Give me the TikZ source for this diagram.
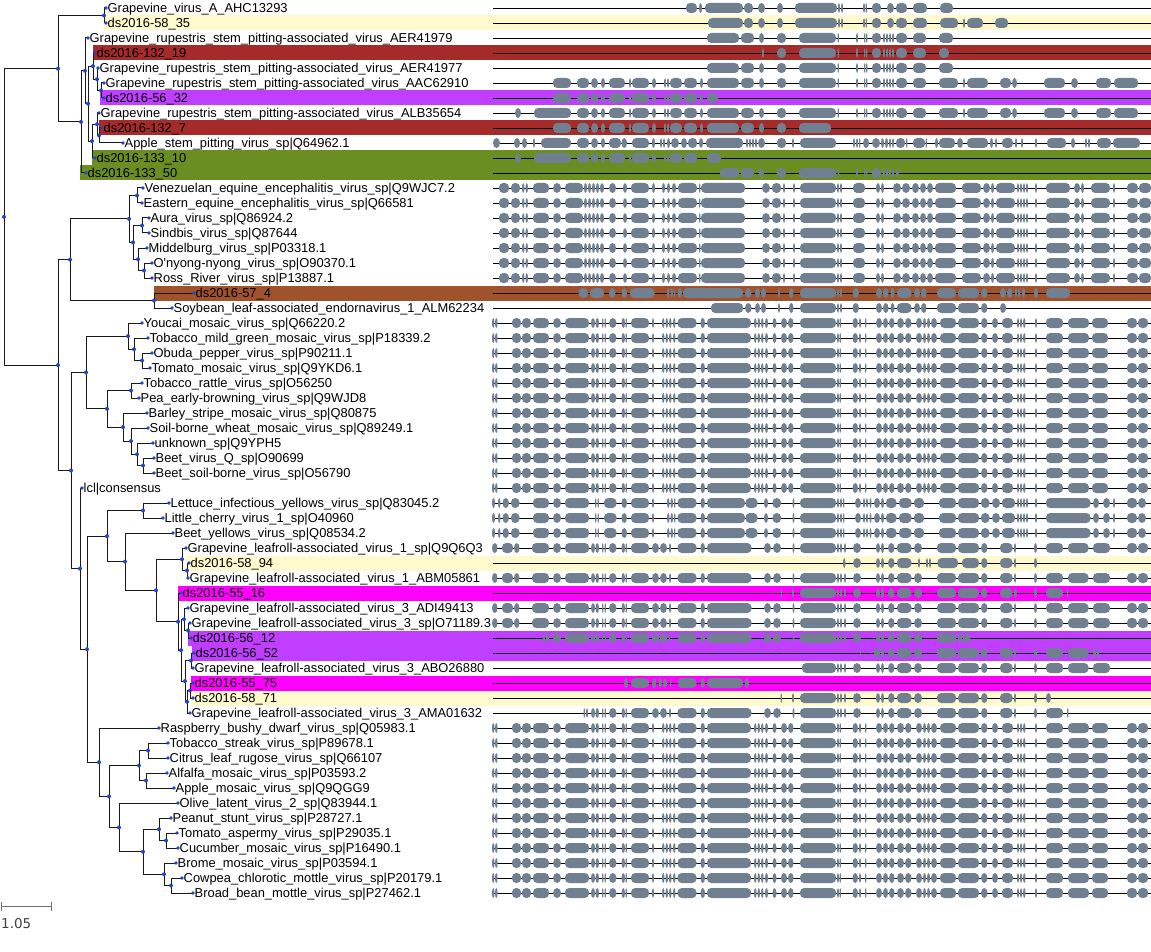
\documentclass[tikz,border=0pt]{standalone}
\usepackage{fontspec}
\newfontfamily\lf{Liberation Sans}
\newfontfamily\sbf{DejaVu Sans}
\definecolor{dotblue}{HTML}{2244CC}
\definecolor{blk}{HTML}{708090}
\definecolor{cyel}{HTML}{FFFACD}
\definecolor{cbrn}{HTML}{A52A2A}
\definecolor{cpur}{HTML}{BF3EFF}
\definecolor{coli}{HTML}{6B8E23}
\definecolor{csie}{HTML}{A0522D}
\definecolor{cmag}{HTML}{FF00FF}
\definecolor{sbar}{HTML}{707070}
\tikzset{
  br/.style={draw=black!90,line width=1pt},
  nd/.style={fill=dotblue},
  lbl/.style={anchor=base west,inner sep=0pt,xshift=1.5pt,yshift=-4.6pt,font=\lf\fontsize{12.9}{15}\selectfont},
  blkc/.style={fill=blk},
  alnline/.style={draw=black,line width=0.9pt},
  sb/.style={draw=sbar,line width=1pt},
}
% one alignment block: thin ellipse when narrow, rounded bar otherwise
\newcommand\blk[3]{%
  \pgfmathsetmacro\bw{#3-#2}%
  \pgfmathsetmacro\bc{(#2+#3)/2}%
  \ifdim\bw pt<8.5pt\relax
    \fill[blkc] (\bc,#1) ellipse ({\bw/2} and 5);%
  \else
    \fill[blkc,rounded corners=4.2pt] (#2,#1-5) rectangle (#3,#1+5);%
  \fi}
% one alignment row: base line plus its blocks
\newcommand\aln[2]{%
  \draw[alnline] (493,#1) -- (1151,#1);
  \foreach \a/\b in #2 {\blk{#1}{\a}{\b}}}
% highlight band behind a leaf row
\newcommand\band[3]{\fill[#1] (#2,#3-7.5) rectangle (1151,#3+7.5);}
% block patterns shared by related sequences
\def\Palpha{499/509,511/520,522/524.5,525.5/528,533/549,553/561,565/583,584/587,588/591,592/595,596/599,600/604,609/616,623/627,631/649,652/655,662/665,667/670,672/676,678/697,699/700.5,701/745,762/770,772/781,783/785,793/795,800/836,837/839,840/842,853/865,876/880,881/884,893/901,902/910,912/919,920/926,927/933,935/956,962/981,983/990,991/994,996/1015,1017/1019,1020/1022,1023/1025,1026/1028,1035/1037,1046/1070,1074/1080,1081/1084,1091/1110,1113/1115,1127/1138,1139/1151}
\def\Ptmv{492/494.5,495/497.6,512/521,522/531,533/549,553/561,565/589,591/595,595.5/599,602/603.5,604.5/606,609/616.5,621.5/625,625.5/627,631/649,652/654,662/664.5,665.5/668,669/671.5,673/675.5,677.5/696.5,700.5/705,707/751,754/756.5,757.5/760,761/763.5,765/768,772.5/776.5,781/787,788/793.5,800/836,837/839,839.5/841,852.5/858,859/861,865/866.5,876/882,883/888,889/894.5,897/904,905/911.5,916/922,923/926,927/930,931/937,940/956,958/979,981/987.5,992/998,1002/1013,1017/1019,1020/1022,1023/1025.5,1035/1037,1046/1063,1068/1089,1092/1108,1127/1137,1138/1148}
\def\Pclos{492/495,498/500.5,502.5/509,511/519.5,533/549,553/561,565/589,595/596.5,597.5/599,604/616.5,621.5/627,631/649,652/654,667/669.5,670.5/673,674/675.5,677.5/696.5,700.5/705,707/745,745.5/757.5,764/768,772.5/781,792.5/794.5,800/836,837/839,840/842,843/844.5,855/861,863/865,866/868,869.5/871.5,874/880,881/884,886/896.5,899/911.5,914/924,939/956,958/979,981/989.5,992/1000,1002/1015,1017/1019,1020/1022,1023/1025,1026/1028,1035/1037,1046/1090.5,1093/1099,1103/1110,1113/1115,1127/1137,1138/1146}
\def\Gmid{591/595,595.5/599,602/603.5,604.5/606,609/616.5,621.5/625,625.5/627,631/649,652/659,660/667,669/671,677.5/696.5,700.5/705,707/751.5,764/771,773/781,792.5/794.5,800/836,837/839,840/842,844/846,853/861,876/880,881/884,888/894.5,897/911.5,914/922,937/956,958/979,981/987.5,1000/1012.5,1014/1016,1034/1037,1046/1063}
\edef\Pglr{492/497.5,502/513,514/519.5,532/549,553/561,565/589,\Gmid,1068/1088.5,1093/1110,1127/1137,1138/1148}
\edef\Rglrb{583.5/585,586/588,\Gmid,1067/1068.5}
\def\Fhead{577/589,591/598,601/605,609/625,629/631,632/649,652/656,664/666,667/669,670/682,684/697}
\def\Fmid{707/739,741/754,759/764,777/786,799/836,837.5/839,856/858,864/865.5,866/867.5,872/881,883/885,886/888,889/891,892/894,896/907,913/926}
\def\Ftail{939/958,963/965,967/988,1000/1011,1012/1017,1044/1065,1071/1078,1096/1111,1114/1138}
\edef\Rthree{\Fmid,939/953}
\edef\Rsix{553/571,\Fhead,700/703,\Fmid,\Ftail}
\edef\Rseven{553/571,\Fhead,700/703,707/718}
\edef\Reight{515/521,534/571,\Fhead,700/703,\Fmid,\Ftail}
\edef\Rnine{553/571,\Fhead,700/703,707/739,741/754,759/764,777/786,799/831}
\edef\Releven{515/521,534/571,\Fhead,707/721}
\begin{document}
\begin{tikzpicture}[x=1pt,y=-1pt]
\useasboundingbox (0,0) rectangle (1151,952);
\fill[white] (0,0) rectangle (1151,952);

% highlight bands
\band{cyel}{104}{23}
\band{cbrn}{93}{53}
\band{cpur}{100}{98}
\band{cbrn}{99}{128}
\band{coli}{92}{158}
\band{coli}{80}{173}
\band{csie}{154}{293}
\band{cyel}{186}{563}
\band{cmag}{178}{593}
\band{cpur}{188}{638}
\band{cpur}{192}{653}
\band{cmag}{191}{683}
\band{cyel}{191}{698}

% internal nodes of the tree
\foreach \n/\x/\y in {root/4/216.9,B/58/68.7,A/104/15.5,C/81/121.9,D/85/70.8,E/88/103.6,F/93/66.1,H/97/79.25,I/101/90.5,K/92/141.1,G/97/124.25,J/99/135.5,
  X/58/365.1,L/70/259.7,M/129/218.9,O/137/195.5,P/133/242.4,Q/142/225.5,R/138/259.25,S/144/270.5,N/154/300.5,
  Y/71/470.5,Z/86/372.4,T/128/336.1,T2/134/349.25,T3/142/360.5,V/107/408.8,W/131/390.5,AA/123/427.1,AB/131/441.1,AC/137/454.25,AD/143/465.5,
  AF/80/568.6,AG/87/649.2,AH/107/536.1,AJ/143/510.5,AK/125/561.6,AL/156/590.3,AM/182/559.25,AO/187/570.5,AN/178/621.6,AP/181/650.2,AQ/184/619.25,AS/188/630.5,AR/185/681.1,AT/191/660.5,AU/187/701.75,AV/190/690.5,
  AI/99/762.2,AW/109/796.4,AX/139/765.5,AZ/148/750.5,BA/146/780.5,AY/119/827.4,BB/143/851.75,BC/159/829.25,BE/166/840.5,BD/164/874.25,BF/171/885.5}
  {\coordinate (\n) at (\x,\y);}

% leaves
\foreach \n/\x/\y in {l1/106/8,l2/106/23,l3/88/38,l4/95/53,l5/98/68,l6/104/83,l7/104/98,l8/99/113,l9/102/128,l10/123/143,l11/95/158,l12/86/173,
  l13/143/188,l14/142/203,l15/149/218,l16/149/233,l17/147/248,l18/152/263,l19/152/278,l20/194/293,l21/172/308,
  l22/142/323,l23/148/338,l24/152/353,l25/150/368,l26/142/383,l27/139/398,l28/147/413,l29/148/428,l30/153/443,l31/154/458,l32/154/473,
  l33/82/488,l34/169/503,l35/163/518,l36/173/533,l37/186/548,l38/189/563,l39/188/578,l40/181/593,l41/188/608,l42/190/623,l43/191/638,l44/194/653,l45/193/668,l46/193/683,l47/193/698,l48/190/713,
  l49/159/728,l50/168/743,l51/168/758,l52/167/773,l53/174/788,l54/178/803,l55/171/818,l56/177/833,l57/178/848,l58/176/863,l59/182/878,l60/193/893}
  {\coordinate (\n) at (\x,\y);}

% branches
\foreach \p/\c in {root/B,root/X,B/A,B/C,A/l1,A/l2,C/D,C/l12,D/l3,D/E,E/F,E/K,F/l4,F/H,H/l5,H/I,I/l6,I/l7,K/G,K/l11,G/l8,G/J,J/l9,J/l10,
  X/L,X/Y,L/M,L/N,M/O,M/P,O/l13,O/l14,P/Q,P/R,Q/l15,Q/l16,R/l17,R/S,S/l18,S/l19,N/l20,N/l21,
  Y/Z,Y/AF,Z/T,Z/V,T/l22,T/T2,T2/l23,T2/T3,T3/l24,T3/l25,V/W,V/AA,W/l26,W/l27,AA/l28,AA/AB,AB/l29,AB/AC,AC/l30,AC/AD,AD/l31,AD/l32,
  AF/l33,AF/AG,AG/AH,AG/AI,AH/AJ,AH/AK,AJ/l34,AJ/l35,AK/l36,AK/AL,AL/AM,AL/AN,AM/l37,AM/AO,AO/l38,AO/l39,AN/l40,AN/AP,AP/AQ,AP/AR,AQ/l41,AQ/AS,AS/l42,AS/l43,AR/AT,AR/AU,AT/l44,AT/l45,AU/AV,AU/l48,AV/l46,AV/l47,
  AI/l49,AI/AW,AW/AX,AW/AY,AX/AZ,AX/BA,AZ/l50,AZ/l51,BA/l52,BA/l53,AY/l54,AY/BB,BB/BC,BB/BD,BC/l55,BC/BE,BE/l56,BE/l57,BD/l58,BD/BF,BF/l59,BF/l60}
  {\draw[br] (\p) |- (\c);}

% node dots
\foreach \n in {root,B,A,C,D,E,F,H,I,K,G,J,X,L,M,O,P,Q,R,S,N,Y,Z,T,T2,T3,V,W,AA,AB,AC,AD,AF,AG,AH,AJ,AK,AL,AM,AO,AN,AP,AQ,AS,AR,AT,AU,AV,AI,AW,AX,AZ,BA,AY,BB,BC,BE,BD,BF}
  {\fill[nd] (\n) circle (2);}
\foreach \i in {1,...,60} {\fill[nd] (l\i) circle (1.8);}

% leaf labels
\node[lbl] (t1) at (l1) {Grapevine\_virus\_A\_AHC13293};
\node[lbl] (t2) at (l2) {ds2016-58\_35};
\node[lbl] (t3) at (l3) {Grapevine\_rupestris\_stem\_pitting-associated\_virus\_AER41979};
\node[lbl] (t4) at (l4) {ds2016-132\_19};
\node[lbl] (t5) at (l5) {Grapevine\_rupestris\_stem\_pitting-associated\_virus\_AER41977};
\node[lbl] (t6) at (l6) {Grapevine\_rupestris\_stem\_pitting-associated\_virus\_AAC62910};
\node[lbl] (t7) at (l7) {ds2016-56\_32};
\node[lbl] (t8) at (l8) {Grapevine\_rupestris\_stem\_pitting-associated\_virus\_ALB35654};
\node[lbl] (t9) at (l9) {ds2016-132\_7};
\node[lbl] (t10) at (l10) {Apple\_stem\_pitting\_virus\_sp|Q64962.1};
\node[lbl] (t11) at (l11) {ds2016-133\_10};
\node[lbl] (t12) at (l12) {ds2016-133\_50};
\node[lbl] (t13) at (l13) {Venezuelan\_equine\_encephalitis\_virus\_sp|Q9WJC7.2};
\node[lbl] (t14) at (l14) {Eastern\_equine\_encephalitis\_virus\_sp|Q66581};
\node[lbl] (t15) at (l15) {Aura\_virus\_sp|Q86924.2};
\node[lbl] (t16) at (l16) {Sindbis\_virus\_sp|Q87644};
\node[lbl] (t17) at (l17) {Middelburg\_virus\_sp|P03318.1};
\node[lbl] (t18) at (l18) {O'nyong-nyong\_virus\_sp|O90370.1};
\node[lbl] (t19) at (l19) {Ross\_River\_virus\_sp|P13887.1};
\node[lbl] (t20) at (l20) {ds2016-57\_4};
\node[lbl] (t21) at (l21) {Soybean\_leaf-associated\_endornavirus\_1\_ALM62234};
\node[lbl] (t22) at (l22) {Youcai\_mosaic\_virus\_sp|Q66220.2};
\node[lbl] (t23) at (l23) {Tobacco\_mild\_green\_mosaic\_virus\_sp|P18339.2};
\node[lbl] (t24) at (l24) {Obuda\_pepper\_virus\_sp|P90211.1};
\node[lbl] (t25) at (l25) {Tomato\_mosaic\_virus\_sp|Q9YKD6.1};
\node[lbl] (t26) at (l26) {Tobacco\_rattle\_virus\_sp|O56250};
\node[lbl] (t27) at (l27) {Pea\_early-browning\_virus\_sp|Q9WJD8};
\node[lbl] (t28) at (l28) {Barley\_stripe\_mosaic\_virus\_sp|Q80875};
\node[lbl] (t29) at (l29) {Soil-borne\_wheat\_mosaic\_virus\_sp|Q89249.1};
\node[lbl] (t30) at (l30) {unknown\_sp|Q9YPH5};
\node[lbl] (t31) at (l31) {Beet\_virus\_Q\_sp|O90699};
\node[lbl] (t32) at (l32) {Beet\_soil-borne\_virus\_sp|O56790};
\node[lbl] (t33) at (l33) {lcl|consensus};
\node[lbl] (t34) at (l34) {Lettuce\_infectious\_yellows\_virus\_sp|Q83045.2};
\node[lbl] (t35) at (l35) {Little\_cherry\_virus\_1\_sp|O40960};
\node[lbl] (t36) at (l36) {Beet\_yellows\_virus\_sp|Q08534.2};
\node[lbl] (t37) at (l37) {Grapevine\_leafroll-associated\_virus\_1\_sp|Q9Q6Q3};
\node[lbl] (t38) at (l38) {ds2016-58\_94};
\node[lbl] (t39) at (l39) {Grapevine\_leafroll-associated\_virus\_1\_ABM05861};
\node[lbl] (t40) at (l40) {ds2016-55\_16};
\node[lbl] (t41) at (l41) {Grapevine\_leafroll-associated\_virus\_3\_ADI49413};
\node[lbl] (t42) at (l42) {Grapevine\_leafroll-associated\_virus\_3\_sp|O71189.3};
\node[lbl] (t43) at (l43) {ds2016-56\_12};
\node[lbl] (t44) at (l44) {ds2016-56\_52};
\node[lbl] (t45) at (l45) {Grapevine\_leafroll-associated\_virus\_3\_ABO26880};
\node[lbl] (t46) at (l46) {ds2016-55\_75};
\node[lbl] (t47) at (l47) {ds2016-58\_71};
\node[lbl] (t48) at (l48) {Grapevine\_leafroll-associated\_virus\_3\_AMA01632};
\node[lbl] (t49) at (l49) {Raspberry\_bushy\_dwarf\_virus\_sp|Q05983.1};
\node[lbl] (t50) at (l50) {Tobacco\_streak\_virus\_sp|P89678.1};
\node[lbl] (t51) at (l51) {Citrus\_leaf\_rugose\_virus\_sp|Q66107};
\node[lbl] (t52) at (l52) {Alfalfa\_mosaic\_virus\_sp|P03593.2};
\node[lbl] (t53) at (l53) {Apple\_mosaic\_virus\_sp|Q9QGG9};
\node[lbl] (t54) at (l54) {Olive\_latent\_virus\_2\_sp|Q83944.1};
\node[lbl] (t55) at (l55) {Peanut\_stunt\_virus\_sp|P28727.1};
\node[lbl] (t56) at (l56) {Tomato\_aspermy\_virus\_sp|P29035.1};
\node[lbl] (t57) at (l57) {Cucumber\_mosaic\_virus\_sp|P16490.1};
\node[lbl] (t58) at (l58) {Brome\_mosaic\_virus\_sp|P03594.1};
\node[lbl] (t59) at (l59) {Cowpea\_chlorotic\_mottle\_virus\_sp|P20179.1};
\node[lbl] (t60) at (l60) {Broad\_bean\_mottle\_virus\_sp|P27462.1};

% alignment rows
\aln{8}{{686/697,699/702,705/743,744/753,758/765,777/783,795/837,838/840,841/843,863/865,865.5/867,872/881,887/894,896/907,913/927,940/953}}
\aln{23}{{708/743,744/753,758/765,777/783,795/837,838/840,841/843,863/865,865.5/867,872/881,887/894,896/907,913/927,940/958,963/965,967/983,995/1008}}
\aln{38}{\Rthree}
\aln{53}{{762/764,777/786,799/836,837.5/839,856/858,864/865.5,866/867.5,872/881,883/885,886/888,889/891,892/894,896/907,913/926,939/949}}
\aln{68}{\Rthree}
\aln{83}{\Rsix}
\aln{98}{\Rseven}
\aln{113}{\Reight}
\aln{128}{\Rnine}
\aln{143}{{493/500,514/520,522/527,533/535,541/571,577/589,591/598,601/605,609/621,621.5/627,632/649,652/655,660/662,663/665,667/670,671/679,681/687,688/697,699/703,706/743,746/748,749/751,752/754,755/757,758/765,777/786,792/794,800/836,853/855,856/858,859/860.5,863/869,872/880,881/884,885/888,889/891,892/894,896/905,906/907.5,913/925,925.5/927,935/938,939/955,957/963,967/988,990/993,995/997,1002/1013,1015/1017,1021/1023,1035/1037,1047/1066,1071/1075,1085/1087,1088/1090,1097/1111,1113/1140}}
\aln{158}{\Releven}
\aln{173}{{720/739,741/754,759/764,777/786,799/836,837.5/839,856/858,864/865.5,866/867.5,872/881,883/885,886/888,889/891,892/894,896/899}}
\foreach \r in {188,203,218,233,248,263,278} {\aln{\r}{\Palpha}}
\aln{293}{{578.5/588,590/604,609/615.5,621.5/627,630/654.5,667/669.5,670.5/673,674/675.5,677.5/682,683/743,745/751.5,755/760,761/766,778/780,789/793.5,800/836,837/839,840/842,852.5/859,876/882,883/888.5,890.5/894.5,897/911.5,914/920,921/926.5,937/956,958/979,981/987.5,1000/1006,1007/1012.5,1015/1017,1018/1020,1022/1025,1034/1038,1046/1070}}
\aln{308}{{711/743,745/751.5,755/760,761/766,778/780,789/793.5,800/836,837/839,840/842,852.5/859,876/882,883/888.5,890.5/894.5,897/911.5,914/920,921/926.5,937/956,958/979,981/987.5,1000/1006}}
\foreach \r in {323,338,353,368,383,398,413,428,443,458,473,488} {\aln{\r}{\Ptmv}}
\foreach \r in {503,518,533} {\aln{\r}{\Pclos}}
\aln{548}{\Pglr}
\aln{563}{{843/845.5,853/861,876/880,881/884,888/894.5,897/911.5,918/920,926/928,929/931,937.5/958,962/979,981/987.5,1000/1012.5,1014/1016,1034/1037}}
\aln{578}{\Pglr}
\aln{593}{{780.5/782,792/794,800/836,837/839,840/842,844/846,853/861,876/880,881/884,888/894.5,897/911.5,914/922,937/956,958/979,981/987.5,1000/1012.5,1014/1017,1034/1037,1046/1063,1067/1068.5}}
\aln{608}{\Pglr}
\aln{623}{\Pglr}
\aln{638}{{542.5/545,546/549,553/561,565/589,591/595,595.5/599,602/603.5,604.5/606,609/616.5,621.5/625,625.5/627,631/649,652/659,660/667,668.5/670,677.5/696.5,700.5/705,707/751.5,764/771,773/781,792.5/794.5,800/836,837/839,840/842,844/846,853/861,876/880,881/884,888/894.5,897/911.5,914/922,937/956,958/962,963/970.5}}
\aln{653}{{859.5/861,874/880,881/884,888/894.5,897/911.5,914/922,937/956,958/979,981/987.5,1000/1012.5,1014/1016,1034/1037,1046/1063,1068/1088.5,1093/1096,1097/1099}}
\aln{668}{{802/836,837/839,840/842,844/846,853/861,876/880,881/884,888/894.5,897/911.5,914/922,937/956,958/979,981/987.5,1000/1012.5,1014/1016,1034/1037,1046/1063,1068/1088.5,1093/1110}}
\aln{683}{{624/628,631/649,652/656.5,658.5/662,663/667,670/671.5,677.5/696.5,700.5/705,707/743,744.5/749}}
\aln{698}{{780.5/782,792/794,800/836,837/839,840/842,844/846,853/861,876/880,881/884,888/894.5,897/911.5,914/922,937/956,958/979,981/987.5,1000/1012.5,1014/1016,1034/1037,1046/1051}}
\aln{713}{\Rglrb}
\foreach \r in {728,743,758,773,788,803,818,833,848,863,878,893} {\aln{\r}{\Ptmv}}

% scale bar
\coordinate (s0) at (1,906);
\coordinate (s1) at (51,906);
\draw[sb] (s0) -- (s1);
\draw[sb] (s0) ++(0,-4.5) -- ++(0,9);
\draw[sb] (s1) ++(0,-4.5) -- ++(0,9);
\node[anchor=base west,inner sep=0pt,text=black!75,font=\sbf\fontsize{13.5}{16}\selectfont] (slab) at (1,928) {1.05};
\end{tikzpicture}
\end{document}
